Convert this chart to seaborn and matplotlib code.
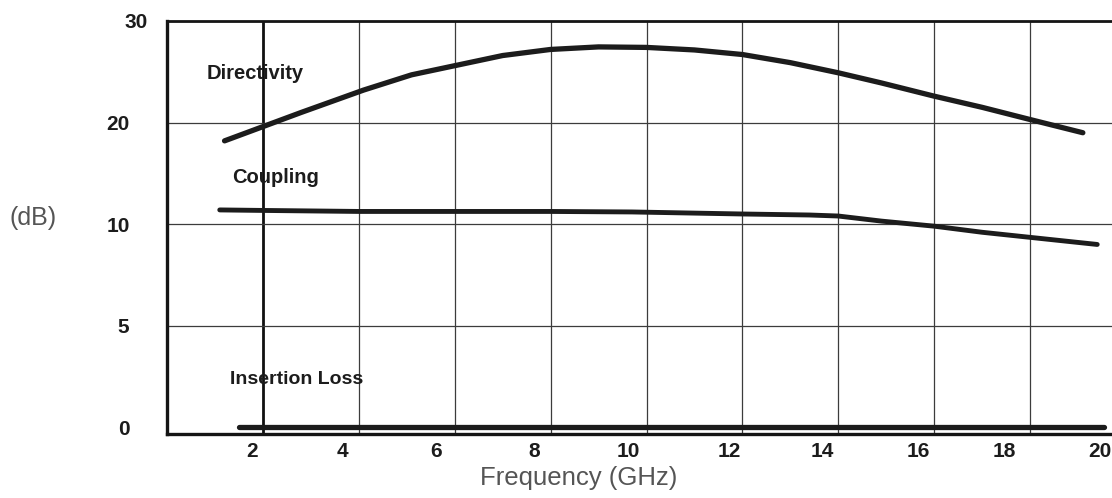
import numpy as np
import pandas as pd
import seaborn as sns
import matplotlib.pyplot as plt
from matplotlib.transforms import ScaledTranslation

# values (GHz, dB)
directivity_f = [1.2, 2.0, 2.8, 4.1, 5.1, 6.1, 7.0, 8.0, 9.0, 10.0, 11.0,
                 12.0, 13.0, 14.0, 14.9, 16.0, 17.0, 18.0, 19.1]
directivity_db = [18.2, 19.6, 21.0, 23.2, 24.7, 25.7, 26.6, 27.2, 27.45, 27.4, 27.15,
                  26.7, 25.9, 24.9, 23.9, 22.6, 21.5, 20.3, 19.0]

coupling_f = [1.1, 2.0, 4.0, 6.0, 8.0, 9.7, 12.0, 13.4, 14.0, 14.9, 16.0, 17.0, 18.0, 19.4]
coupling_db = [11.4, 11.35, 11.25, 11.25, 11.25, 11.2, 11.0, 10.9, 10.8, 10.3, 9.9, 9.6, 9.35, 9.0]

insertion_f = [1.5, 19.55]
insertion_db = [0.0, 0.0]

x_ticks = [2, 4, 6, 8, 10, 12, 14, 16, 18, 20]
y_ticks = [0, 5, 10, 20, 30]
y_ticklabels = ["0", "5", "10", "20", "30"]

# uneven dB axis: each labelled step gets the same height
steps_db = [-5, 0, 5, 10, 20, 30, 40]
steps_pos = [-1, 0, 1, 2, 3, 4, 5]


def forward(v):
    return np.interp(v, steps_db, steps_pos)


def inverse(p):
    return np.interp(p, steps_pos, steps_db)


sns.set_theme(style="white")
plt.rcParams["font.family"] = ["Liberation Sans", "DejaVu Sans"]

ink = "#1c1c1c"
fig = plt.figure(figsize=(11.12, 4.98), dpi=100)
ax = fig.add_axes([167 / 1112, 1 - 434 / 498, 959 / 1112, 413 / 498])

ax.set_yscale("function", functions=(forward, inverse))
ax.set_xlim(0, 20)
ax.set_ylim(-0.33, 30)

ax.set_xticks(x_ticks)
ax.set_xticklabels([str(t) for t in x_ticks])
ax.set_yticks(y_ticks)
ax.set_yticklabels(y_ticklabels)
ax.yaxis.set_minor_locator(plt.NullLocator())

ax.grid(True, color="#3c3c3c", linewidth=0.9)
ax.xaxis.get_gridlines()[0].set_color("#111111")
ax.xaxis.get_gridlines()[0].set_linewidth(2.0)
ax.yaxis.get_gridlines()[0].set_visible(False)

sns.lineplot(x=directivity_f, y=directivity_db, ax=ax, color=ink, linewidth=3.8, sort=False)
sns.lineplot(x=coupling_f, y=coupling_db, ax=ax, color=ink, linewidth=3.5, sort=False)
sns.lineplot(x=insertion_f, y=insertion_db, ax=ax, color=ink, linewidth=3.8, sort=False)

ax.text(0.83, 24.8, "Directivity", fontsize=14.5, fontweight="bold", color=ink, va="center")
ax.text(1.36, 14.6, "Coupling", fontsize=14.5, fontweight="bold", color=ink, va="center")
ax.text(1.31, 2.35, "Insertion Loss", fontsize=14, fontweight="bold", color=ink, va="center")

for side in ["top", "bottom", "left"]:
    ax.spines[side].set_color("#151515")
ax.spines["top"].set_linewidth(2.0)
ax.spines["bottom"].set_linewidth(2.4)
ax.spines["left"].set_linewidth(2.4)
ax.spines["right"].set_visible(False)

ax.tick_params(axis="both", length=0, labelsize=15, labelcolor=ink)
ax.tick_params(axis="x", pad=6)
ax.tick_params(axis="y", pad=27)
for lab in ax.get_xticklabels() + ax.get_yticklabels():
    lab.set_fontweight("bold")

# tick labels in the original sit a little left of their grid lines
x_shift = [-11, -16, -19, -16, -18, -13, -16, -16, -26, -26]
for lab, dx in zip(ax.get_xticklabels(), x_shift):
    lab.set_transform(lab.get_transform() + ScaledTranslation(dx / 100, 0, fig.dpi_scale_trans))
top_lab = ax.get_yticklabels()[-1]
top_lab.set_transform(top_lab.get_transform() + ScaledTranslation(18 / 100, 0, fig.dpi_scale_trans))

fig.text(33 / 1112, 1 - 218 / 498, "(dB)", fontsize=18, color="#555555", ha="center", va="center")
fig.text(579 / 1112, 1 - 478 / 498, "Frequency (GHz)", fontsize=18.5, color="#555555",
         ha="center", va="center")

fig.savefig("out.png", dpi=100)
